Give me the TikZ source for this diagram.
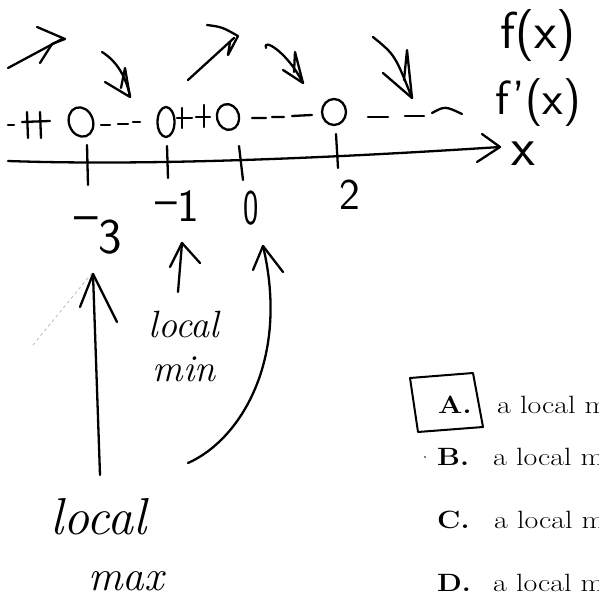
\documentclass[tikz,border=0pt]{standalone}
\usepackage{graphicx}
\usetikzlibrary{calc}
\begin{document}
\begin{tikzpicture}[x=1pt,y=-1pt,
  pen/.style={line width=2.3pt, line cap=round, line join=round},
  hand/.style={inner sep=0pt, font=\sffamily},
  script/.style={inner sep=0pt},
  opt/.style={inner sep=0pt, font=\fontsize{25}{30}\selectfont}]
\useasboundingbox (0,0) rectangle (599,593);
\clip (0,0) rectangle (599,593);

% ---- x axis ----
\coordinate (ax0) at (8,161);
\coordinate (ax1) at (500,147);
\draw[pen] (ax0) .. controls (150,166) and (330,158) .. (ax1);
\draw[pen] (482,134) -- (ax1) -- (477,162);
\node[hand, font=\sffamily\fontsize{55}{55}\selectfont, anchor=base west] (xl) at (511,166) {x};

% ticks
\draw[pen] (87,145) -- (88,185);
\draw[pen] (167,146) -- (168,178);
\draw[pen] (239,146) -- (243,180);
\draw[pen] (336,134) -- (338,168);

% tick labels
\node[hand, font=\sffamily\fontsize{50}{50}\selectfont, anchor=base] (lm3) at (98,254) {\raisebox{.45em}{–}3};
\node[hand, font=\sffamily\fontsize{46}{46}\selectfont, anchor=base] (lm1) at (177,222) {\raisebox{.15em}{–}1};
\node[hand, font=\sffamily\fontsize{50}{50}\selectfont, anchor=base, xscale=.65] (l0) at (251,225) {0};
\node[hand, font=\sffamily\fontsize{44}{44}\selectfont, anchor=base] (l2) at (350,210) {2};

% ---- f'(x) sign row ----
\draw[pen] (8,125) -- (14,125);
\draw[pen] (22,122) -- (50,121) (27,112) -- (28,138) (40,112) -- (41,138);
\draw[pen] (81,122) ellipse [x radius=12, y radius=15, rotate=20];
\draw[pen] (101,125) -- (110,125) (118,124) -- (128,124) (133,122) -- (140,122);
\draw[pen] (166,122) ellipse [x radius=8.5, y radius=15];
\draw[pen] (182,108) -- (182,128) (177,118) -- (192,118);
\draw[pen] (204,105) -- (204,127) (196,117) -- (210,117);
\draw[pen] (228,117) ellipse [x radius=11, y radius=13, rotate=15];
\draw[pen] (252,118) -- (266,118) (272,117) -- (284,117) (292,116) -- (312,115);
\draw[pen] (334,112) ellipse [x radius=12, y radius=13];
\draw[pen] (368,117) -- (388,117) (405,116) -- (424,116);
\draw[pen] (432,113) .. controls (445,106) .. (462,114);

% ---- f(x) arrows ----
\draw[pen] (8,68) -- (62,39);
\draw[pen] (37,27) -- (65,39) -- (52,44) -- (40,63);
\draw[pen] (102,52) .. controls (118,62) and (126,78) .. (130,96);
\draw[pen] (105,82) -- (130,97) -- (125,68) -- (121,88);
\draw[pen] (188,80) -- (234,38);
\draw[pen] (207,25) .. controls (222,27) .. (238,36) -- (228,55) -- (230,42);
\draw[pen] (266,48) .. controls (262,38) and (286,50) .. (303,83);
\draw[pen] (283,70) -- (303,83) -- (295,52) -- (294,72);
\draw[pen] (373,37) .. controls (395,55) .. (412,98);
\draw[pen] (383,73) -- (412,98) -- (407,50) -- (404,80);

% right labels
\node[hand, font=\sffamily\fontsize{52}{52}\selectfont, anchor=base west] (fx) at (500,49) {f(x)};
\node[hand, font=\sffamily\fontsize{48}{48}\selectfont, anchor=base west] (fpx) at (495,115) {f'(x)};

% ---- annotations ----
\node[script, font=\itshape\fontsize{38}{44}\selectfont, align=center] (lmin) at (184,347) {local\\min};
\node[script, font=\itshape\fontsize{52}{56}\selectfont, align=left, anchor=north west] (lmax) at (50,498)
  {local\\\hspace*{38pt}{\fontsize{43}{56}\selectfont max}};

\coordinate (t1) at (182,243);
\coordinate (s1) at (178,292);
\draw[pen] (s1) -- (t1);
\draw[pen] (170,267) -- (t1) -- (200,263);

\coordinate (t3) at (93,274);
\coordinate (s3) at (100,475);
\draw[pen] (s3) -- (t3);
\draw[pen] (80,307) -- (t3) -- (117,322);

\coordinate (t0) at (263,246);
\coordinate (s0) at (188,463);
\draw[pen] (s0) .. controls (240,440) and (290,360) .. (t0);
\draw[pen] (253,270) -- (t0) -- (283,272);

\draw[gray!60, line width=0.7pt, dash pattern=on 3pt off 3pt] (33,345) -- (92,273);

% ---- answer choices ----
\node[opt, anchor=base west] (oA) at (438,413) {\scalebox{1.15}[1]{\textbf{A.}}};
\node[opt, anchor=base west] (tA) at (497,413) {\scalebox{1.2}[1]{a local m}};
\node[opt, anchor=base west] (oB) at (437,465) {\scalebox{1.15}[1]{\textbf{B.}}};
\node[opt, anchor=base west] (tB) at (493,465) {\scalebox{1.2}[1]{a local m}};
\node[opt, anchor=base west] (oC) at (437,528) {\scalebox{1.15}[1]{\textbf{C.}}};
\node[opt, anchor=base west] (tC) at (494,528) {\scalebox{1.2}[1]{a local m}};
\node[opt, anchor=base west] (oD) at (437,591) {\scalebox{1.15}[1]{\textbf{D.}}};
\node[opt, anchor=base west] (tD) at (493,591) {\scalebox{1.2}[1]{a local m}};

\draw[line width=2pt, line join=round] (410,378) -- (473,373) -- (483,427) -- (418,432) -- cycle;
\fill (425,457) circle (0.9);
\end{tikzpicture}
\end{document}
